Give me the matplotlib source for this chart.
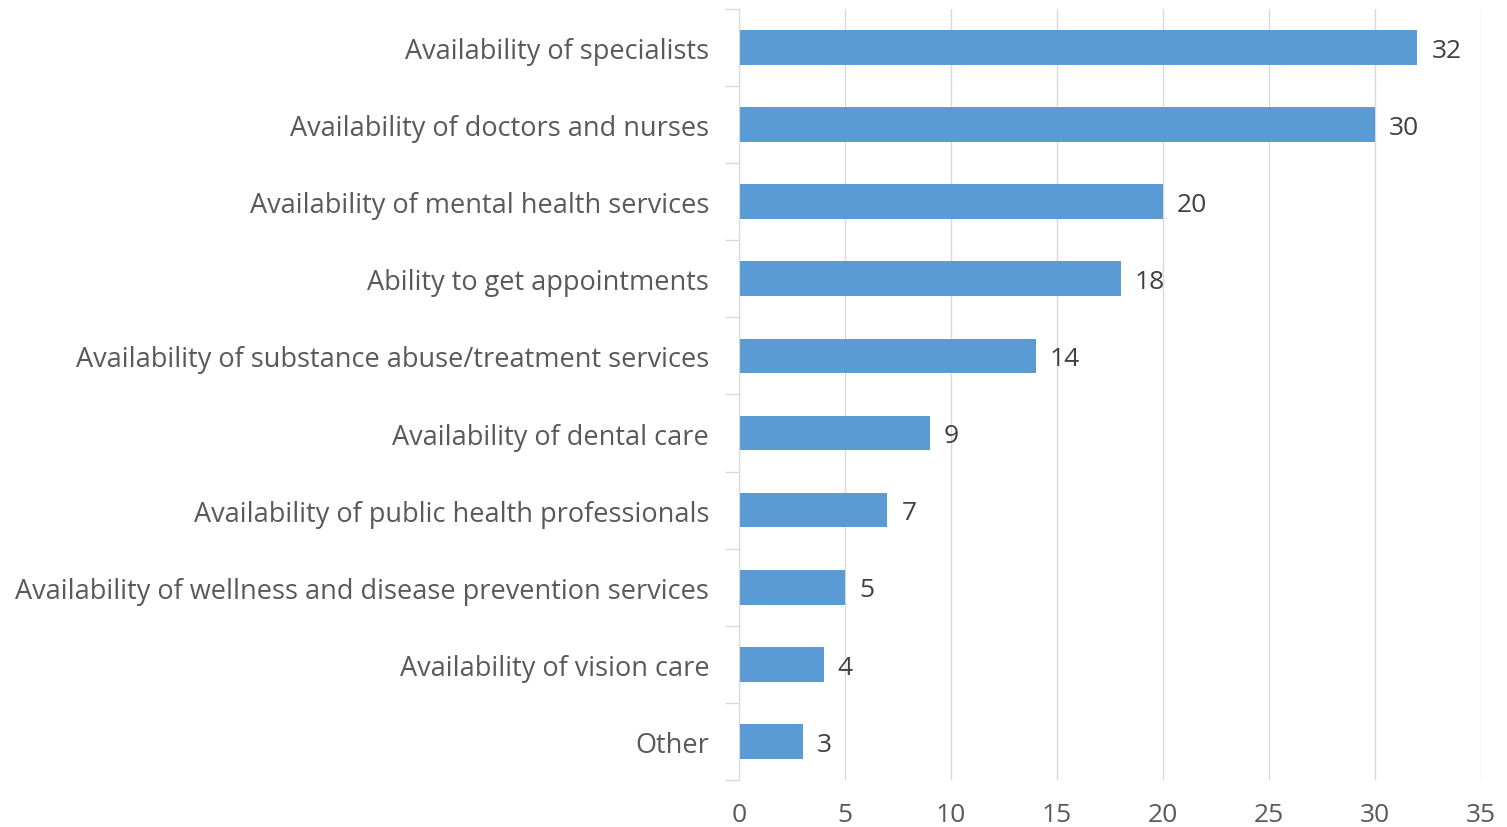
import matplotlib.pyplot as plt
import numpy as np

categories = [
    "Availability of specialists",
    "Availability of doctors and nurses",
    "Availability of mental health services",
    "Ability to get appointments",
    "Availability of substance abuse/treatment services",
    "Availability of dental care",
    "Availability of public health professionals",
    "Availability of wellness and disease prevention services",
    "Availability of vision care",
    "Other",
]
values = [32, 30, 20, 18, 14, 9, 7, 5, 4, 3]
xticks = [0, 5, 10, 15, 20, 25, 30, 35]

plt.rcParams['font.family'] = ['Open Sans', 'DejaVu Sans']

fig = plt.figure(figsize=(15.07, 8.28), dpi=100)
ax = fig.add_axes([0.4904, 0.0568, 0.4924, 0.9312])

y = np.arange(len(categories))
bars = ax.barh(y, values, height=0.45, color='#5B9BD5', zorder=3)
for yi, v in zip(y, values):
    ax.annotate(str(v), (v, yi), xytext=(10, -2), textcoords='offset points',
                va='center', ha='left', fontsize=19, color='#404040')

ax.set_ylim(len(categories) - 0.5, -0.5)
ax.set_xlim(0, 35)
ax.set_xticks(xticks)
ax.set_yticks(y)
ax.set_yticklabels(categories, fontsize=19.5, color='#595959')
ax.set_yticks(np.arange(-0.5, len(categories)), minor=True)
ax.tick_params(axis='y', which='major', length=0, pad=21.5)
ax.tick_params(axis='y', which='minor', length=10, color='#d9d9d9', width=1)
ax.tick_params(axis='x', length=0, labelsize=19, labelcolor='#595959', pad=16)

ax.grid(axis='x', color='#d9d9d9', linewidth=1, zorder=0)
for s in ['top', 'right', 'bottom']:
    ax.spines[s].set_visible(False)
ax.spines['left'].set_color('#d9d9d9')
ax.spines['left'].set_zorder(4)

plt.savefig("out.png")
